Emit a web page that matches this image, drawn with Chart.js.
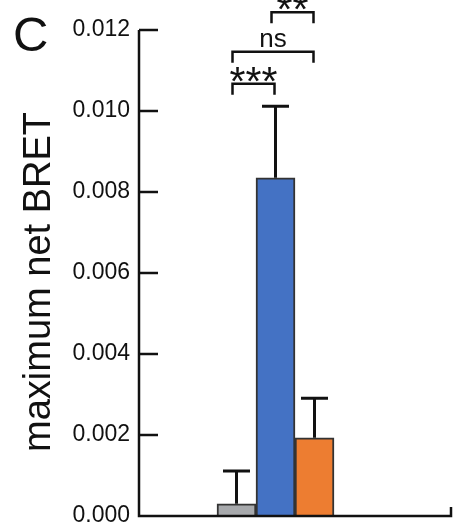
<!DOCTYPE html>
<html>
<head>
<meta charset="utf-8">
<script src="https://cdn.jsdelivr.net/npm/chart.js@4/dist/chart.umd.min.js"></script>
<style>
  html, body { margin: 0; padding: 0; background: #fff; }
</style>
</head>
<body>
<canvas id="bretChart" width="456" height="530"></canvas>
<script>
// slots on the x axis, only 3 are filled
const slots = ['', '', 'grey', 'blue', 'orange', '', '', ''];
const barValues = [null, null, 0.0003, 0.00835, 0.00193, null, null, null];
const barErrors = [null, null, 0.00081, 0.00177, 0.00098, null, null, null];
const barColors = ['#fff', '#fff', '#a7a9ac', '#4472c4', '#ed7d31', '#fff', '#fff', '#fff'];
const yTicks = [0, 0.002, 0.004, 0.006, 0.008, 0.010, 0.012];

// significance brackets: from slot, to slot, height (in y units), label
const sigFrom = [2, 2, 3];
const sigTo = [3, 4, 4];
const sigLevel = [0.01067, 0.01146, 0.01244];
const sigLabel = ['***', 'ns', '**'];

const FONT = '"Liberation Sans", Arial, Helvetica, sans-serif';

const decorPlugin = {
    id: 'decor',
    afterDatasetsDraw(chart) {
        const ctx = chart.ctx;
        const x = chart.scales.x;
        const y = chart.scales.y;
        const area = chart.chartArea;
        const meta = chart.getDatasetMeta(0);

        ctx.save();
        ctx.strokeStyle = '#111';
        ctx.fillStyle = '#111';
        ctx.lineCap = 'butt';

        // error bars (upper only)
        ctx.lineWidth = 3;
        barValues.forEach((v, i) => {
            if (v === null) return;
            const bx = meta.data[i].x;
            const top = y.getPixelForValue(v + barErrors[i]);
            const base = y.getPixelForValue(v);
            ctx.beginPath();
            ctx.moveTo(bx, base);
            ctx.lineTo(bx, top);
            ctx.moveTo(bx - 13.5, top);
            ctx.lineTo(bx + 13.5, top);
            ctx.stroke();
        });

        // axes
        ctx.lineWidth = 2.5;
        ctx.beginPath();
        ctx.moveTo(area.left, area.top);
        ctx.lineTo(area.left, area.bottom);
        ctx.lineTo(area.right, area.bottom);
        ctx.lineTo(area.right, area.bottom - 9);
        ctx.stroke();
        yTicks.forEach(t => {
            const ty = y.getPixelForValue(t);
            if (t === 0) return;
            ctx.beginPath();
            ctx.moveTo(area.left, ty);
            ctx.lineTo(area.left + 19, ty);
            ctx.stroke();
        });

        // significance brackets
        ctx.lineWidth = 2.5;
        ctx.textAlign = 'center';
        sigLabel.forEach((lab, i) => {
            const x1 = x.getPixelForValue(sigFrom[i]) - 4;
            const x2 = x.getPixelForValue(sigTo[i]) - 1;
            const by = y.getPixelForValue(sigLevel[i]);
            ctx.beginPath();
            ctx.moveTo(x1, by + 11);
            ctx.lineTo(x1, by);
            ctx.lineTo(x2, by);
            ctx.lineTo(x2, by + 11);
            ctx.stroke();
            const stars = lab.indexOf('*') >= 0;
            ctx.font = (stars ? '41px ' : '26px ') + FONT;
            const m = ctx.measureText(lab);
            const gap = stars ? 2 : 5;
            ctx.textBaseline = 'alphabetic';
            ctx.fillText(lab, (x1 + x2) / 2, by - gap - m.actualBoundingBoxDescent);
        });

        // y axis title
        ctx.save();
        ctx.translate(50, 282);
        ctx.rotate(-Math.PI / 2);
        ctx.font = '38px ' + FONT;
        ctx.textAlign = 'center';
        ctx.textBaseline = 'alphabetic';
        ctx.fillText('maximum net BRET', 0, 0);
        ctx.restore();

        // panel letter
        ctx.font = '49px ' + FONT;
        ctx.textAlign = 'left';
        ctx.textBaseline = 'alphabetic';
        ctx.fillText('C', 13, 51);

        ctx.restore();
    }
};

new Chart(document.getElementById('bretChart'), {
    type: 'bar',
    data: {
        labels: slots,
        datasets: [{
            data: barValues,
            backgroundColor: barColors,
            borderColor: '#333',
            borderWidth: 2,
            barPercentage: 1,
            categoryPercentage: 1
        }]
    },
    options: {
        responsive: false,
        animation: false,
        layout: { padding: { left: 0, right: 5, top: 30, bottom: 14 } },
        plugins: { legend: { display: false }, tooltip: { enabled: false } },
        scales: {
            x: { display: false },
            y: {
                min: 0,
                max: 0.012,
                afterFit(scale) {
                    scale.width = 139;
                    scale.paddingTop = 0;
                    scale.paddingBottom = 0;
                },
                afterBuildTicks(scale) { scale.ticks = yTicks.map(v => ({ value: v })); },
                grid: { display: false, drawTicks: false },
                border: { display: false },
                ticks: {
                    padding: 9,
                    color: '#111',
                    font: { family: FONT, size: 23 },
                    callback: v => Number(v).toFixed(3)
                }
            }
        }
    },
    plugins: [decorPlugin]
});
</script>
</body>
</html>
